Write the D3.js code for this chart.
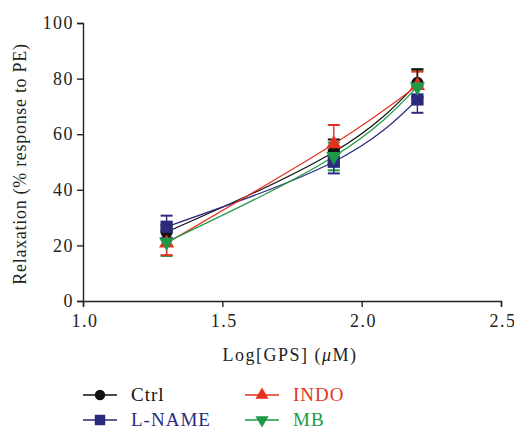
<!DOCTYPE html>
<html>
<head>
<meta charset="utf-8">
<script src="https://cdn.jsdelivr.net/npm/d3@7"></script>
<style>
  body { margin: 0; background: #fff; }
</style>
</head>
<body>
<svg id="chart" width="514" height="429" font-family="Times New Roman">
  <style>text, tspan { font-family: "Liberation Serif", "Times New Roman", Times, serif; }</style>
</svg>
<script>
// Concentrations (log µM) and mean relaxation ± SEM per treatment group
const logDose = [1.3, 1.9, 2.2];
const ctrlMean = [24.8, 53.6, 78.4];
const ctrlSem = [2.5, 4.5, 5.0];
const lnameMean = [26.7, 50.1, 72.5];
const lnameSem = [4.0, 4.2, 4.8];
const indoMean = [20.8, 56.5, 77.5];
const indoSem = [4.3, 6.8, 5.0];
const mbMean = [21.2, 52.0, 77.0];
const mbSem = [5.0, 5.0, 6.0];
const xTicks = [1.0, 1.5, 2.0, 2.5];
const yTicks = [0, 20, 40, 60, 80, 100];

const series = [
  { name: "Ctrl", mean: ctrlMean, sem: ctrlSem, color: "#111111", shape: "circle" },
  { name: "L-NAME", mean: lnameMean, sem: lnameSem, color: "#2c2a7c", shape: "square" },
  { name: "INDO", mean: indoMean, sem: indoSem, color: "#e5321f", shape: "triUp" },
  { name: "MB", mean: mbMean, sem: mbSem, color: "#1c9a45", shape: "triDown" }
];

const svg = d3.select("#chart");
const x = d3.scaleLinear().domain([1.0, 2.5]).range([83, 501]);
const y = d3.scaleLinear().domain([0, 100]).range([301, 23]);

// Axes
const xAxis = svg.append("g").attr("transform", "translate(0,301)")
  .call(d3.axisBottom(x).tickValues(xTicks).tickFormat(d3.format(".1f")).tickSizeOuter(0).tickSize(6));
const yAxis = svg.append("g").attr("transform", "translate(83,0)")
  .call(d3.axisLeft(y).tickValues(yTicks).tickSizeOuter(0).tickSize(6));
[xAxis, yAxis].forEach(a => {
  a.attr("font-family", "Times New Roman").attr("font-size", 18);
  a.select(".domain").attr("stroke", "#222").attr("stroke-width", 1.4);
  a.selectAll(".tick line").attr("stroke", "#222").attr("stroke-width", 1.4);
  a.selectAll(".tick text").attr("fill", "#222").attr("letter-spacing", 1.5);
});
xAxis.selectAll(".tick text").attr("dy", "0.95em").attr("dx", "0.08em");
yAxis.selectAll(".tick text").attr("dx", "0");

// Axis titles
const xTitle = svg.append("text").attr("x", 290).attr("y", 361).attr("text-anchor", "middle")
  .attr("font-size", 18).attr("letter-spacing", 1.5).attr("fill", "#222");
xTitle.append("tspan").text("Log[GPS] (");
xTitle.append("tspan").attr("font-style", "italic").text("μ");
xTitle.append("tspan").text("M)");
svg.append("text").attr("transform", "translate(26,164) rotate(-90)")
  .attr("text-anchor", "middle").attr("font-size", 18).attr("letter-spacing", 0.7)
  .attr("fill", "#222")
  .text("Relaxation (% response to PE)");

// Marker shapes
const symbolFor = {
  circle: d3.symbol().type(d3.symbolCircle).size(120),
  square: d3.symbol().type(d3.symbolSquare).size(150),
  triUp: d3.symbol().type(d3.symbolTriangle).size(100),
  triDown: d3.symbol().type(d3.symbolTriangle).size(100)
};
const legendSymbol = {
  circle: d3.symbol().type(d3.symbolCircle).size(85),
  square: d3.symbol().type(d3.symbolSquare).size(110),
  triUp: d3.symbol().type(d3.symbolTriangle).size(75),
  triDown: d3.symbol().type(d3.symbolTriangle).size(75)
};
function drawMarker(g, s, cx, cy, gen) {
  g.append("path").attr("d", gen[s.shape]())
    .attr("transform", `translate(${cx},${cy})` + (s.shape === "triDown" ? " rotate(180)" : ""))
    .attr("fill", s.color);
}

// Fitted curves
const line = d3.line().x(d => x(d[0])).y(d => y(d[1])).curve(d3.curveNatural);
series.forEach(s => {
  svg.append("path").datum(logDose.map((d, i) => [d, s.mean[i]]))
    .attr("d", line).attr("fill", "none").attr("stroke", s.color).attr("stroke-width", 1.2);
});

// Error bars (drawn back to front), then markers
[...series].reverse().forEach(s => {
  const g = svg.append("g");
  logDose.forEach((d, i) => {
    const cx = x(d), lo = y(s.mean[i] - s.sem[i]), hi = y(s.mean[i] + s.sem[i]);
    g.append("line").attr("x1", cx).attr("x2", cx).attr("y1", lo).attr("y2", hi)
      .attr("stroke", s.color).attr("stroke-width", 1.4);
    [lo, hi].forEach(yy => g.append("line").attr("x1", cx - 6).attr("x2", cx + 6)
      .attr("y1", yy).attr("y2", yy).attr("stroke", s.color).attr("stroke-width", 2));
  });
});
series.forEach(s => {
  const g = svg.append("g");
  logDose.forEach((d, i) => drawMarker(g, s, x(d), y(s.mean[i]), symbolFor));
});

// Legend
const legendPos = [[70, 395], [70, 420], [232, 395], [232, 420]];
series.forEach((s, i) => {
  const [lx, ly] = legendPos[i];
  const g = svg.append("g");
  g.append("line").attr("x1", lx + 13).attr("x2", lx + 47).attr("y1", ly).attr("y2", ly)
    .attr("stroke", s.color).attr("stroke-width", 1.4);
  drawMarker(g, s, lx + 30, ly, legendSymbol);
  g.append("text").attr("x", lx + 61).attr("y", ly + 6).attr("font-size", 19)
    .attr("letter-spacing", 1).attr("fill", s.color).text(s.name);
});
</script>
</body>
</html>
